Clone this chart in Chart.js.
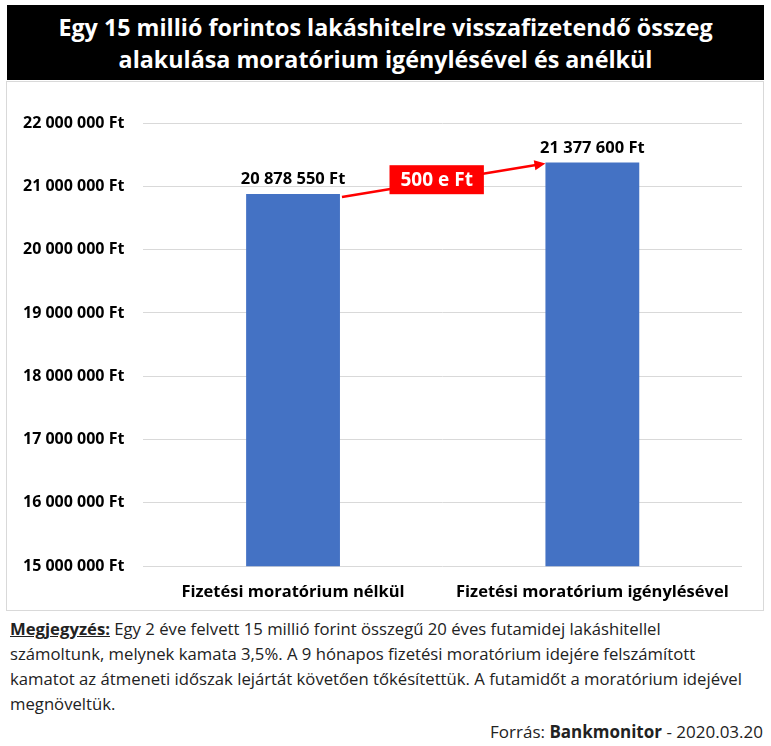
<!DOCTYPE html>
<html>
<head>
<meta charset="utf-8">
<script src="https://cdn.jsdelivr.net/npm/chart.js@4.4.1/dist/chart.umd.min.js"></script>
<style>
    body { margin: 0; background: #fff; font-family: "Open Sans", sans-serif; }
    #page { position: relative; width: 771px; height: 746px; }
    #title {
        position: absolute; left: 7px; top: 5px; width: 757px; height: 75px;
        background: #000; color: #fff; font-weight: bold; font-size: 23.3px;
        line-height: 32px; text-align: center; padding-top: 6px; box-sizing: border-box;
    }
    #panel {
        position: absolute; left: 6px; top: 81px; width: 758px; height: 530px;
        border: 1px solid #d9d9d9; box-sizing: border-box;
    }
    #note {
        position: absolute; left: 10px; top: 616px; width: 760px;
        font-size: 16.7px; line-height: 25px; color: #222;
    }
    #note b { text-decoration: underline; }
    #source {
        position: absolute; right: 8px; top: 720px; font-size: 17px; color: #222;
    }
</style>
</head>
<body>
<div id="page">
    <div id="title">Egy 15 millió forintos lakáshitelre visszafizetendő összeg<br>alakulása moratórium igénylésével és anélkül</div>
    <div id="panel"><canvas id="chart"></canvas></div>
    <div id="note"><b>Megjegyzés:</b> Egy 2 éve felvett 15 millió forint összegű 20 éves futamidej lakáshitellel<br>számoltunk, melynek kamata 3,5%. A 9 hónapos fizetési moratórium idejére felszámított<br>kamatot az átmeneti időszak lejártát követően tőkésítettük. A futamidőt a moratórium idejével<br>megnöveltük.</div>
    <div id="source">Forrás: <b>Bankmonitor</b> - 2020.03.20</div>
</div>
<script>
const categories = ["Fizetési moratórium nélkül", "Fizetési moratórium igénylésével"];
const values = [20878550, 21377600];
const differenceLabel = "500 e Ft";
const axisMin = 15000000;
const axisMax = 22000000;
const axisStep = 1000000;

// Szóközös ezres tagolás, pl. "20 878 550 Ft"
function formatFt(v) {
    return String(Math.round(v)).replace(/\B(?=(\d{3})+(?!\d))/g, " ") + " Ft";
}

// Értékcímkék az oszlopok fölé
const valueLabels = {
    id: "valueLabels",
    afterDatasetsDraw(chart) {
        const ctx = chart.ctx;
        const meta = chart.getDatasetMeta(0);
        ctx.save();
        ctx.font = "bold 16.5px 'Open Sans'";
        ctx.fillStyle = "#000";
        ctx.textAlign = "center";
        ctx.textBaseline = "bottom";
        meta.data.forEach((bar, i) => {
            ctx.fillText(formatFt(values[i]), bar.x, bar.y - 6);
        });
        ctx.restore();
    }
};

// Piros nyíl és különbség címke a két oszlop teteje között
const diffArrow = {
    id: "diffArrow",
    afterDatasetsDraw(chart) {
        const ctx = chart.ctx;
        const meta = chart.getDatasetMeta(0);
        const b1 = meta.data[0], b2 = meta.data[1];
        const x1 = b1.x + b1.width / 2 + 2, y1 = b1.y + 3;
        const x2 = b2.x - b2.width / 2, y2 = b2.y + 1;
        ctx.save();
        ctx.strokeStyle = "#ff0000";
        ctx.fillStyle = "#ff0000";
        ctx.lineWidth = 2.5;
        const ang = Math.atan2(y2 - y1, x2 - x1);
        ctx.beginPath();
        ctx.moveTo(x1, y1);
        ctx.lineTo(x2 - 8 * Math.cos(ang), y2 - 8 * Math.sin(ang));
        ctx.stroke();
        ctx.beginPath();
        ctx.moveTo(x2, y2);
        ctx.lineTo(x2 - 11 * Math.cos(ang) + 5 * Math.sin(ang), y2 - 11 * Math.sin(ang) - 5 * Math.cos(ang));
        ctx.lineTo(x2 - 11 * Math.cos(ang) - 5 * Math.sin(ang), y2 - 11 * Math.sin(ang) + 5 * Math.cos(ang));
        ctx.closePath();
        ctx.fill();
        // címke doboz
        const cx = (x1 + x2) / 2 - 7, cy = (y1 + y2) / 2 - 1;
        ctx.font = "bold 19px 'Open Sans'";
        const w = ctx.measureText(differenceLabel).width + 22;
        ctx.fillRect(cx - w / 2, cy - 14, w, 29);
        ctx.fillStyle = "#fff";
        ctx.textAlign = "center";
        ctx.textBaseline = "middle";
        ctx.fillText(differenceLabel, cx, cy + 1);
        ctx.restore();
    }
};

new Chart(document.getElementById("chart"), {
    type: "bar",
    data: {
        labels: categories,
        datasets: [{
            data: values,
            backgroundColor: "#4472c4",
            barPercentage: 0.627,
            categoryPercentage: 0.5
        }]
    },
    options: {
        responsive: true,
        maintainAspectRatio: false,
        animation: false,
        layout: { padding: { top: 41, right: 21, left: -3, bottom: 0 } },
        plugins: {
            legend: { display: false },
            tooltip: { enabled: false }
        },
        scales: {
            x: {
                grid: { display: false },
                border: { display: false },
                ticks: { color: "#000", font: { family: "Open Sans", size: 16.5, weight: "bold" }, padding: 8 }
            },
            y: {
                min: axisMin,
                max: axisMax,
                ticks: {
                    stepSize: axisStep,
                    color: "#000",
                    padding: 19,
                    font: { family: "Open Sans", size: 16, weight: "bold" },
                    callback: v => formatFt(v)
                },
                grid: { color: "#d9d9d9", drawTicks: false },
                border: { display: false }
            }
        }
    },
    plugins: [valueLabels, diffArrow]
});
</script>
</body>
</html>
